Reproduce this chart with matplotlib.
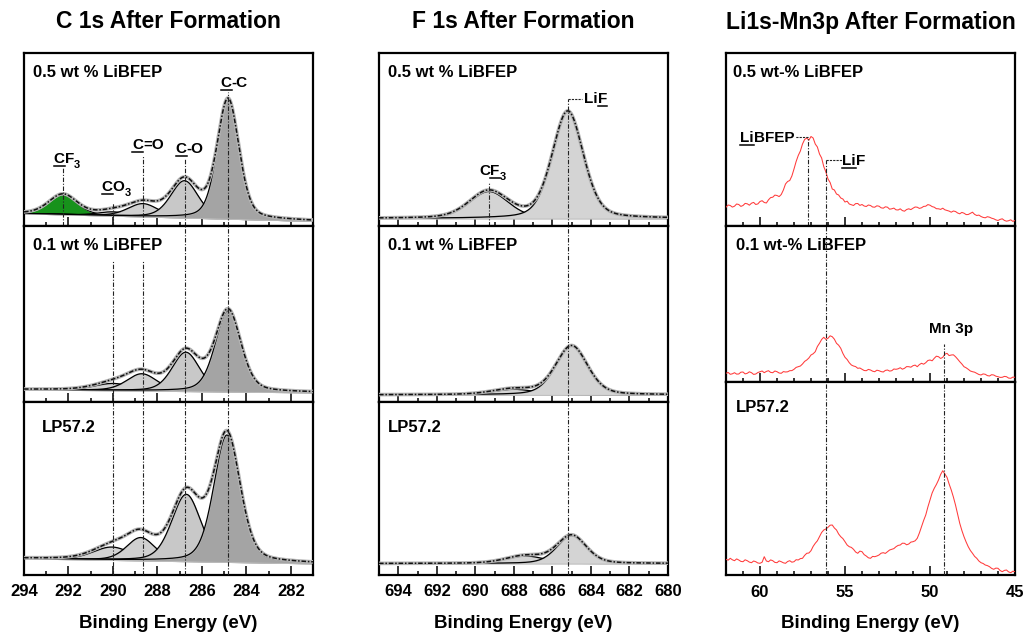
import numpy as np
import matplotlib
matplotlib.use('Agg')
import matplotlib.pyplot as plt
import matplotlib.transforms as mtransforms
from matplotlib.lines import Line2D
from matplotlib.font_manager import FontProperties
from matplotlib.ticker import MultipleLocator

plt.rcParams['font.family'] = ['Liberation Sans', 'DejaVu Sans']
plt.rcParams['font.weight'] = 'bold'

W, H = 1032, 638
fig = plt.figure(figsize=(W / 100, H / 100), dpi=100)

# ---------------- data (intensities in arbitrary units) ----------------
samples_cf = ['0.5 wt % LiBFEP', '0.1 wt % LiBFEP', 'LP57.2']
samples_li = ['0.5 wt-% LiBFEP', '0.1 wt-% LiBFEP', 'LP57.2']

# C 1s fitted components: CF3, CO3, C=O, C-O, C-C
c1s_names = ['CF3', 'CO3', 'C=O', 'C-O', 'C-C']
c1s_colors = ['#17921b', '#d4d4d4', '#d0d0d0', '#c8c8c8', '#a4a4a4']
c1s_center = [[292.25, 290.00, 288.65, 286.78, 284.82],
              [292.25, 290.00, 288.70, 286.72, 284.82],
              [292.25, 290.05, 288.75, 286.70, 284.87]]
c1s_height = [[20, 4, 13, 37, 119],
              [0, 7, 17, 39, 81],
              [0, 13, 23, 67, 127]]
c1s_fwhm = [[1.5, 1.6, 1.6, 1.45, 1.15],
            [1.5, 2.0, 1.6, 1.45, 1.35],
            [1.5, 2.0, 1.5, 1.55, 1.40]]
c1s_bg = [(13, 5.5), (12, 9), (16, 11)]   # background at 294 / 281 eV

# F 1s fitted components: CF3, LiF
f1s_center = [[689.3, 685.2], [688.0, 685.0], [687.4, 685.0]]
f1s_height = [[27, 107], [5.5, 49], [7.5, 28]]
f1s_fwhm = [[2.4, 1.9], [2.6, 1.95], [2.4, 1.8]]
f1s_bg = [8, 6.7, 11]

# Li 1s / Mn 3p raw spectra, 62 -> 45 eV in 0.125 eV steps
li_top = [18.8, 21.0, 20.5, 18.9, 19.8, 22.0, 21.5, 19.6, 20.5, 22.6, 22.2, 20.8,
          22.8, 23.6, 21.5, 22.1, 24.5, 25.3, 23.5, 23.0, 26.2, 28.4, 28.8, 30.9,
          30.5, 29.4, 31.5, 36.0, 42.0, 44.5, 45.5, 50.0, 57.0, 64.5, 70.5, 75.0,
          82.0, 86.5, 88.0, 85.8, 89.5, 88.0, 82.0, 79.0, 72.0, 68.0, 59.5, 54.0,
          47.0, 43.5, 37.0, 36.0, 32.0, 31.0, 28.0, 27.0, 24.0, 24.8, 22.0, 21.2,
          20.5, 22.4, 22.5, 20.6, 21.5, 20.0, 19.5, 21.0, 20.5, 19.0, 18.8, 20.2,
          19.8, 18.2, 17.8, 19.2, 18.8, 16.8, 17.2, 17.9, 16.2, 16.0, 17.2, 15.4,
          14.8, 16.5, 17.2, 16.4, 17.8, 19.0, 18.8, 17.6, 18.2, 19.6, 19.8, 21.4,
          20.8, 19.4, 18.8, 17.3, 17.2, 16.6, 17.8, 16.2, 15.5, 14.9, 13.8, 15.0,
          14.5, 13.0, 12.2, 13.6, 12.8, 11.4, 11.5, 12.6, 13.8, 11.6, 10.5, 10.9,
          9.5, 8.6, 8.2, 9.3, 8.8, 7.8, 7.2, 6.1, 5.5, 6.6, 7.2, 5.6, 4.8, 5.3,
          6.2, 4.6, 5.5]
li_mid = [8.7, 9.6, 7.7, 8.2, 9.3, 7.9, 8.0, 9.8, 10.0, 8.1, 8.7, 10.2, 9.3, 7.6,
          8.0, 9.5, 10.3, 11.0, 9.3, 10.6, 11.3, 9.6, 9.3, 11.0, 10.3, 9.0, 8.7,
          10.4, 10.0, 10.2, 11.3, 11.4, 12.7, 14.6, 15.3, 16.0, 18.0, 20.6, 22.0,
          24.0, 27.0, 28.2, 30.3, 35.5, 38.7, 42.5, 44.7, 42.6, 43.7, 46.2, 45.3,
          42.8, 38.7, 36.8, 33.7, 28.6, 24.7, 22.5, 19.3, 17.0, 16.0, 15.4, 13.7,
          14.0, 12.7, 11.5, 11.3, 12.6, 12.0, 10.8, 10.3, 11.8, 11.3, 10.4, 10.0,
          11.6, 12.0, 10.9, 11.3, 13.0, 12.7, 13.2, 14.3, 12.8, 13.7, 15.4, 15.3,
          14.8, 16.3, 16.9, 15.3, 17.4, 18.7, 17.8, 19.3, 21.5, 22.0, 21.2, 23.7,
          25.8, 25.3, 23.5, 24.7, 27.8, 28.7, 26.4, 27.0, 27.2, 25.3, 22.9, 20.3,
          18.0, 15.3, 14.2, 12.7, 11.0, 10.3, 9.8, 8.7, 7.5, 7.0, 8.1, 7.7, 6.4,
          6.0, 7.3, 7.0, 5.8, 5.3, 4.6, 4.7, 5.6, 5.3, 3.9, 3.7, 4.9, 4.7]
li_bot = [15.7, 14.8, 16.7, 15.2, 14.3, 16.1, 15.0, 13.6, 13.3, 15.2, 14.3, 12.9,
          12.3, 14.0, 13.3, 12.0, 11.7, 12.8, 18.3, 14.0, 13.3, 15.1, 14.3, 12.6,
          12.3, 14.1, 13.3, 12.2, 11.7, 13.5, 14.3, 12.8, 13.3, 15.3, 15.0, 16.4,
          16.7, 19.6, 21.7, 22.0, 24.3, 28.6, 31.7, 34.2, 38.3, 42.5, 45.0, 46.0,
          47.7, 49.8, 50.0, 47.0, 45.0, 41.0, 38.3, 36.4, 33.3, 30.0, 28.3, 27.6,
          25.7, 23.0, 21.7, 23.9, 23.3, 20.4, 19.0, 17.2, 16.7, 18.6, 18.3, 19.0,
          20.0, 21.8, 22.3, 21.6, 23.3, 25.0, 25.7, 26.4, 28.3, 29.6, 30.0, 31.8,
          31.7, 30.2, 31.0, 32.9, 33.3, 34.2, 36.7, 42.0, 48.3, 54.5, 60.0, 68.0,
          75.0, 82.0, 86.7, 90.5, 95.0, 100.5, 104.3, 101.0, 97.7, 91.0, 85.0, 78.0,
          70.0, 61.0, 51.7, 44.5, 38.3, 33.0, 28.3, 24.5, 21.7, 18.6, 16.7, 14.0,
          12.3, 11.5, 10.0, 9.4, 8.3, 6.6, 5.7, 6.9, 6.7, 4.5, 3.3, 4.6, 5.0, 3.1,
          2.3, 3.8, 3.3]
li_spectra = [li_top, li_mid, li_bot]

# ---------------- layout ----------------
col_x = [(24, 313), (379, 668), (726, 1015)]
rows_cf = [53, 226.5, 401.5, 574.5]
rows_li = [53, 226, 382, 575]
xlims = [(294, 281), (695, 680), (62, 45)]
majors = [2, 2, 5]


def make_ax(col, rows, r):
    x0, x1 = col_x[col]
    y0, y1 = rows[r], rows[r + 1]
    ax = fig.add_axes([x0 / W, 1 - y1 / H, (x1 - x0) / W, (y1 - y0) / H])
    ax.set_xlim(*xlims[col])
    ax.set_ylim(0, y1 - y0)
    ax.xaxis.set_major_locator(MultipleLocator(majors[col]))
    ax.xaxis.set_minor_locator(MultipleLocator(1))
    ax.tick_params(axis='x', which='both', direction='in', top=False, width=1.1,
                   labelbottom=(r == 2), labelsize=12, pad=7)
    ax.tick_params(axis='x', which='major', length=6.5)
    ax.tick_params(axis='x', which='minor', length=3.2)
    ax.set_yticks([])
    for s in ax.spines.values():
        s.set_linewidth(1.6)
    return ax


def gl(x, c, h, w, m=0.3):
    d = 4 * (x - c) ** 2 / w ** 2
    return h * ((1 - m) * np.exp(-np.log(2) * d) + m / (1 + d))


VLS = (0, (4, 1.5, 1, 1.5))


def vline(ax, x, top=None):
    ytop = ax.get_ylim()[1] if top is None else top
    ax.plot([x, x], [0, ytop], color='#222222', lw=0.8, ls=VLS, zorder=6)


def hlead(ax, x0, x1, y):
    ax.plot([x0, x1], [y, y], color='#222222', lw=0.8, ls=(0, (2, 1)), zorder=6)


def panel_label(ax, text, dx, dy):
    ax.annotate(text, xy=(0, 1), xycoords='axes fraction',
                xytext=(dx * 0.72, -dy * 0.72), textcoords='offset points',
                ha='left', va='baseline', fontsize=12, fontweight='bold')


def label(ax, x, y, segs, ha='center', size=11):
    r = fig.canvas.get_renderer()
    widths = []
    for s, u, sub in segs:
        fp = FontProperties(family='Liberation Sans', weight='bold',
                            size=size * 0.72 if sub else size)
        w, _, _ = r.get_text_width_height_descent(s, fp, ismath=False)
        widths.append(w * 72 / fig.dpi)
    total = sum(widths)
    pos = {'center': -total / 2, 'left': 0, 'right': -total}[ha]
    tr = mtransforms.Affine2D().scale(fig.dpi / 72) + \
        mtransforms.ScaledTranslation(x, y, ax.transData)
    for (s, u, sub), w in zip(segs, widths):
        ax.text(pos, -3.5 if sub else 0, s, transform=tr, ha='left', va='baseline',
                fontsize=size * 0.72 if sub else size, fontweight='bold',
                clip_on=False, zorder=7)
        if u:
            ax.add_line(Line2D([pos, pos + w], [-2.3, -2.3], transform=tr,
                               color='k', lw=1.1, clip_on=False, zorder=7))
        pos += w


def envelope(ax, x, y):
    ax.plot(x, y, color='#b4b4b4', lw=2.6, zorder=4)
    ax.plot(x, y, color='#111111', lw=1.1, ls=(0, (3, 1.2, 1, 1.2)), zorder=5)


# ---------------- C 1s ----------------
ec = np.linspace(294, 281, 700)
axc = []
for r in range(3):
    ax = make_ax(0, rows_cf, r)
    b0, b1 = c1s_bg[r]
    bg = b1 + (b0 - b1) * (ec - 281) / 13
    total = bg.copy()
    for i in range(5):
        h = c1s_height[r][i]
        if h <= 0:
            continue
        comp = gl(ec, c1s_center[r][i], h, c1s_fwhm[r][i])
        total += comp
        ax.fill_between(ec, bg, bg + comp, facecolor=c1s_colors[i],
                        edgecolor='#bdbdbd', lw=0.6, zorder=2 + i * 0.1)
        ax.plot(ec, bg + comp, color='k', lw=0.9, zorder=2.05 + i * 0.1)
    envelope(ax, ec, total)
    panel_label(ax, samples_cf[r], 17.7 if r == 2 else 9.3, 31 if r == 2 else 23.6)
    axc.append(ax)

vline(axc[0], 292.25, 58)
vline(axc[0], 290.0, 23.5)
vline(axc[0], 288.65, 71.5)
vline(axc[0], 286.78, 68.5)
vline(axc[0], 284.82, 135)
vline(axc[1], 290.0, 141.5)
vline(axc[1], 288.65, 141.5)
vline(axc[1], 286.78)
vline(axc[1], 284.82)
for xv in [290.0, 288.65, 286.78, 284.82]:
    vline(axc[2], xv)

# ---------------- F 1s ----------------
ef = np.linspace(695, 680, 700)
axf = []
for r in range(3):
    ax = make_ax(1, rows_cf, r)
    bg = np.full_like(ef, f1s_bg[r])
    total = bg.copy()
    for i in range(2):
        comp = gl(ef, f1s_center[r][i], f1s_height[r][i], f1s_fwhm[r][i])
        total += comp
        ax.fill_between(ef, bg, bg + comp, facecolor='#d4d4d4',
                        edgecolor='#bdbdbd', lw=0.6, zorder=2 + i * 0.1)
        ax.plot(ef, bg + comp, color='k', lw=0.9, zorder=2.05 + i * 0.1)
    envelope(ax, ef, total)
    panel_label(ax, samples_cf[r], 9.3, 31 if r == 2 else 23.6)
    axf.append(ax)

vline(axf[0], 685.2, 127.2)
hlead(axf[0], 685.2, 684.45, 127.2)
vline(axf[0], 689.3, 43.8)
vline(axf[1], 685.2)
vline(axf[2], 685.2)

# ---------------- Li 1s / Mn 3p ----------------
axl = []
for r in range(3):
    ax = make_ax(2, rows_li, r)
    spec = li_spectra[r]
    ax.plot(np.linspace(62, 45, len(spec)), spec, color='#ff3b3b', lw=0.75, zorder=3)
    panel_label(ax, samples_li[r], 7.3 if r == 0 else 10, 29.7 if r == 2 else 24)
    axl.append(ax)

vline(axl[0], 57.2, 88.8)
hlead(axl[0], 57.2, 57.95, 88.8)
vline(axl[0], 56.1, 66.2)
hlead(axl[0], 56.1, 55.2, 66.2)
vline(axl[1], 56.1)
vline(axl[1], 49.2, 38)
vline(axl[2], 56.1)
vline(axl[2], 49.2)

# ---------------- peak labels ----------------
label(axc[0], 292.07, 63.8, [('C', True, False), ('F', False, False), ('3', False, True)])
label(axc[0], 289.86, 35.8, [('C', True, False), ('O', False, False), ('3', False, True)])
label(axc[0], 288.42, 77.5, [('C', True, False), ('=O', False, False)])
label(axc[0], 286.54, 73.2, [('C', True, False), ('-O', False, False)])
label(axc[0], 284.54, 139.8, [('C', True, False), ('-C', False, False)])

label(axf[0], 684.36, 123.2, [('Li', False, False), ('F', True, False)], ha='left')
label(axf[0], 689.1, 51.5, [('C', False, False), ('F', True, False), ('3', False, True)])

label(axl[0], 57.98, 83.8, [('Li', True, False), ('BFEP', False, False)], ha='right')
label(axl[0], 55.15, 61.2, [('Li', True, False), ('F', False, False)], ha='left')
label(axl[1], 48.75, 48.7, [('Mn 3p', False, False)])

# ---------------- titles & axis labels ----------------
titles = ['C 1s After Formation', 'F 1s After Formation', 'Li1s-Mn3p After Formation']
for (x0, x1), t in zip(col_x, titles):
    xc = (x0 + x1) / 2 / W
    fig.text(xc, 1 - 22 / H, t, ha='center', va='center', fontsize=16.5, fontweight='bold')
    fig.text(xc, 1 - 623 / H, 'Binding Energy (eV)', ha='center', va='center',
             fontsize=13.5, fontweight='bold')

fig.savefig('out.png', dpi=100)
